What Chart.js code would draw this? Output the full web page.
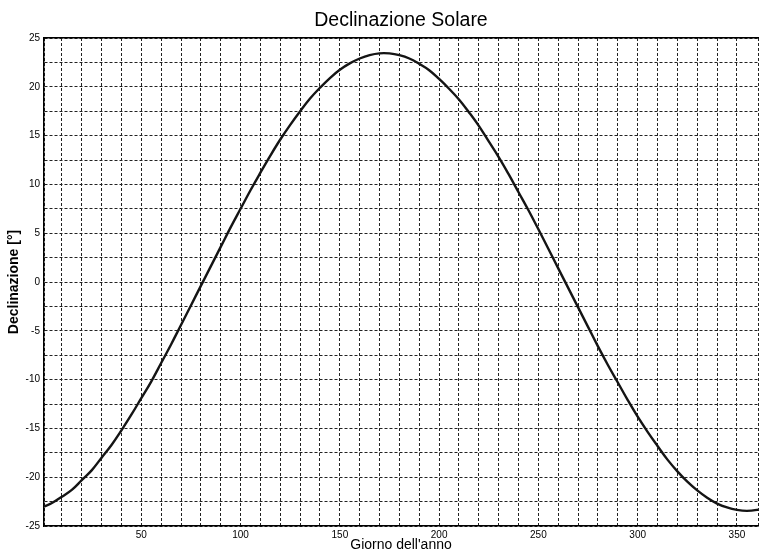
<!DOCTYPE html>
<html>
<head>
<meta charset="utf-8">
<title>Declinazione Solare</title>
<script src="https://cdn.jsdelivr.net/npm/chart.js@4"></script>
<style>
  html, body { margin: 0; padding: 0; background: #fff; }
  #wrap { width: 761px; height: 554px; }
</style>
</head>
<body>
<div id="wrap"><canvas id="declChart" width="761" height="554"></canvas></div>
<script>
// Days of the year (every 5 days) and declination
const days = [1, 5, 10, 15, 20, 25, 30, 35, 40, 45, 50, 55, 60, 65, 70, 75, 80, 85, 90, 95,
  100, 105, 110, 115, 120, 125, 130, 135, 140, 145, 150, 155, 160, 165, 170, 175, 180, 185, 190, 195,
  200, 205, 210, 215, 220, 225, 230, 235, 240, 245, 250, 255, 260, 265, 270, 275, 280, 285, 290, 295,
  300, 305, 310, 315, 320, 325, 330, 335, 340, 345, 350, 355, 360, 365];
const declination = [-23.0, -22.65, -22.0, -21.3, -20.3, -19.3, -18.0, -16.7, -15.2, -13.6,
  -11.9, -10.2, -8.3, -6.4, -4.4, -2.4, -0.4, 1.6, 3.6, 5.6,
  7.5, 9.4, 11.2, 12.95, 14.6, 16.1, 17.5, 18.8, 19.9, 20.9,
  21.75, 22.4, 22.9, 23.25, 23.43, 23.42, 23.24, 22.9, 22.35, 21.7,
  20.8, 19.8, 18.7, 17.4, 16.0, 14.4, 12.8, 11.05, 9.2, 7.35,
  5.4, 3.4, 1.4, -0.6, -2.6, -4.6, -6.6, -8.5, -10.3, -12.1,
  -13.8, -15.35, -16.8, -18.2, -19.4, -20.45, -21.35, -22.1, -22.7, -23.1,
  -23.35, -23.45, -23.35, -23.1];

const xTickLabels = [50, 100, 150, 200, 250, 300, 350];
const yTickLabels = [-25, -20, -15, -10, -5, 0, 5, 10, 15, 20, 25];

const points = days.map((d, i) => ({ x: d, y: declination[i] }));

const gridColor = "#222";
const fontFamily = "Arial, 'Liberation Sans', sans-serif";
const tickFont = { family: fontFamily, size: 10 };

new Chart(document.getElementById("declChart"), {
  type: "line",
  data: {
    datasets: [
      {
        label: "Declinazione",
        data: points,
        borderColor: "#141414",
        borderWidth: 2.4,
        pointRadius: 0,
        tension: 0.4,
        fill: false,
      },
    ],
  },
  options: {
    responsive: false,
    animation: false,
    devicePixelRatio: 1,
    layout: { padding: 0 },
    plugins: {
      legend: { display: false },
      tooltip: { enabled: false },
      title: {
        display: true,
        fullSize: false,
        text: "Declinazione Solare",
        color: "#000",
        font: { family: fontFamily, size: 19.5, weight: "normal" },
        padding: { top: 9.3, bottom: 5.3 },
      },
    },
    scales: {
      x: {
        type: "linear",
        min: 1,
        max: 360.6,
        afterFit: (scale) => { scale.height = 28; },
        grid: { color: gridColor, lineWidth: 1, drawTicks: false },
        border: { display: true, color: "#000", width: 1.5, dash: [3, 2] },
        ticks: {
          stepSize: 10,
          autoSkip: false,
          maxRotation: 0,
          padding: 3,
          color: "#000",
          font: tickFont,
          callback: (v) => (xTickLabels.includes(v) ? v : ""),
        },
        title: {
          display: true,
          text: "Giorno dell'anno",
          color: "#000",
          font: { family: fontFamily, size: 14, weight: "normal" },
          padding: { top: 0, bottom: 0 },
        },
      },
      xTop: {
        type: "linear",
        position: "top",
        min: 1,
        max: 360.6,
        afterFit: (scale) => { scale.height = 0; },
        grid: { drawOnChartArea: false, drawTicks: false },
        border: { display: true, color: "#000", width: 1.5 },
        ticks: { display: false },
      },
      y: {
        min: -25,
        max: 25,
        afterFit: (scale) => { scale.width = 44; },
        grid: { color: gridColor, lineWidth: 1, drawTicks: false },
        border: { display: true, color: "#000", width: 1.5, dash: [3, 2] },
        ticks: {
          stepSize: 2.5,
          autoSkip: false,
          padding: 4,
          color: "#000",
          font: tickFont,
          callback: (v) => (yTickLabels.includes(v) ? v : ""),
        },
        title: {
          display: true,
          text: "Declinazione [°]",
          color: "#000",
          font: { family: fontFamily, size: 14, weight: "bold" },
          padding: { top: 5.6, bottom: 0 },
        },
      },
    },
  },
});
</script>
</body>
</html>
